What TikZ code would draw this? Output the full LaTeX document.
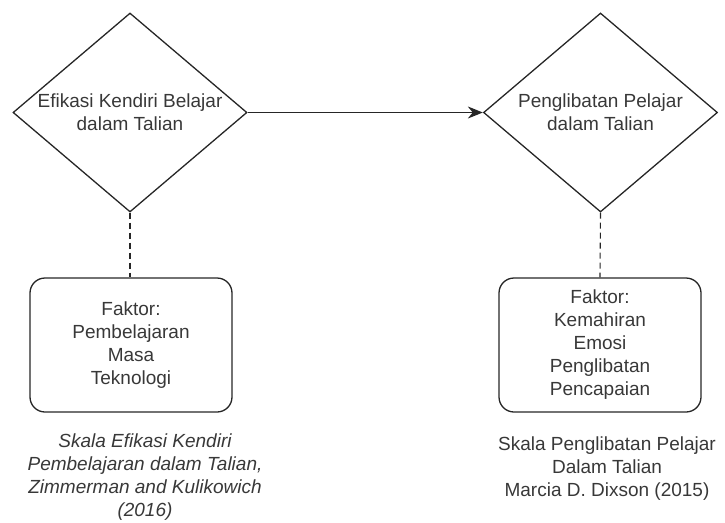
\documentclass[tikz,border=0pt]{standalone}
\usepackage{fontspec}
\setmainfont{Liberation Sans}
\usetikzlibrary{shapes.geometric,arrows.meta}
\tikzset{
  txt/.style={text=black!78, font=\fontsize{19}{23}\selectfont, align=center},
  dia/.style={draw=black!85, line width=1.3pt, diamond, aspect=1.176, minimum width=234pt, minimum height=199pt, inner sep=0pt, txt},
  fbox/.style={draw=black!85, line width=1.3pt, rounded corners=15pt, minimum width=202pt, minimum height=134pt, inner sep=0pt, txt},
  conn/.style={draw=black!85, line width=1.3pt},
  dashconn/.style={draw=black!85, line width=1.1pt, dash pattern=on 6pt off 4pt},
}
\begin{document}
\begin{tikzpicture}[x=1pt,y=-1pt]
\useasboundingbox (0,0) rectangle (725,522);
\node[dia] (d1) at (130,112.5) {Efikasi Kendiri Belajar\\dalam Talian};
\node[dia] (d2) at (600.5,112.5) {Penglibatan Pelajar\\dalam Talian};
\node[fbox] (b1) at (131,345) {Faktor:\\Pembelajaran\\Masa\\Teknologi};
\node[fbox] (b2) at (600,345) {Faktor:\\Kemahiran\\Emosi\\Penglibatan\\Pencapaian};
\node[txt, font=\fontsize{19}{23}\selectfont\itshape] (s1) at (145,477.5) {Skala Efikasi Kendiri\\Pembelajaran dalam Talian,\\Zimmerman and Kulikowich\\(2016)};
\node[txt] (s2) at (607,469) {Skala Penglibatan Pelajar\\Dalam Talian\\Marcia D. Dixson (2015)};
\draw[conn, -{Stealth[length=15pt,width=12pt]}] (d1.east) -- (d2.west);
\draw[dashconn] (d1.south) -- (b1.north -| d1.south);
\draw[dashconn] (d2.south) -- (b2.north);
\end{tikzpicture}
\end{document}
